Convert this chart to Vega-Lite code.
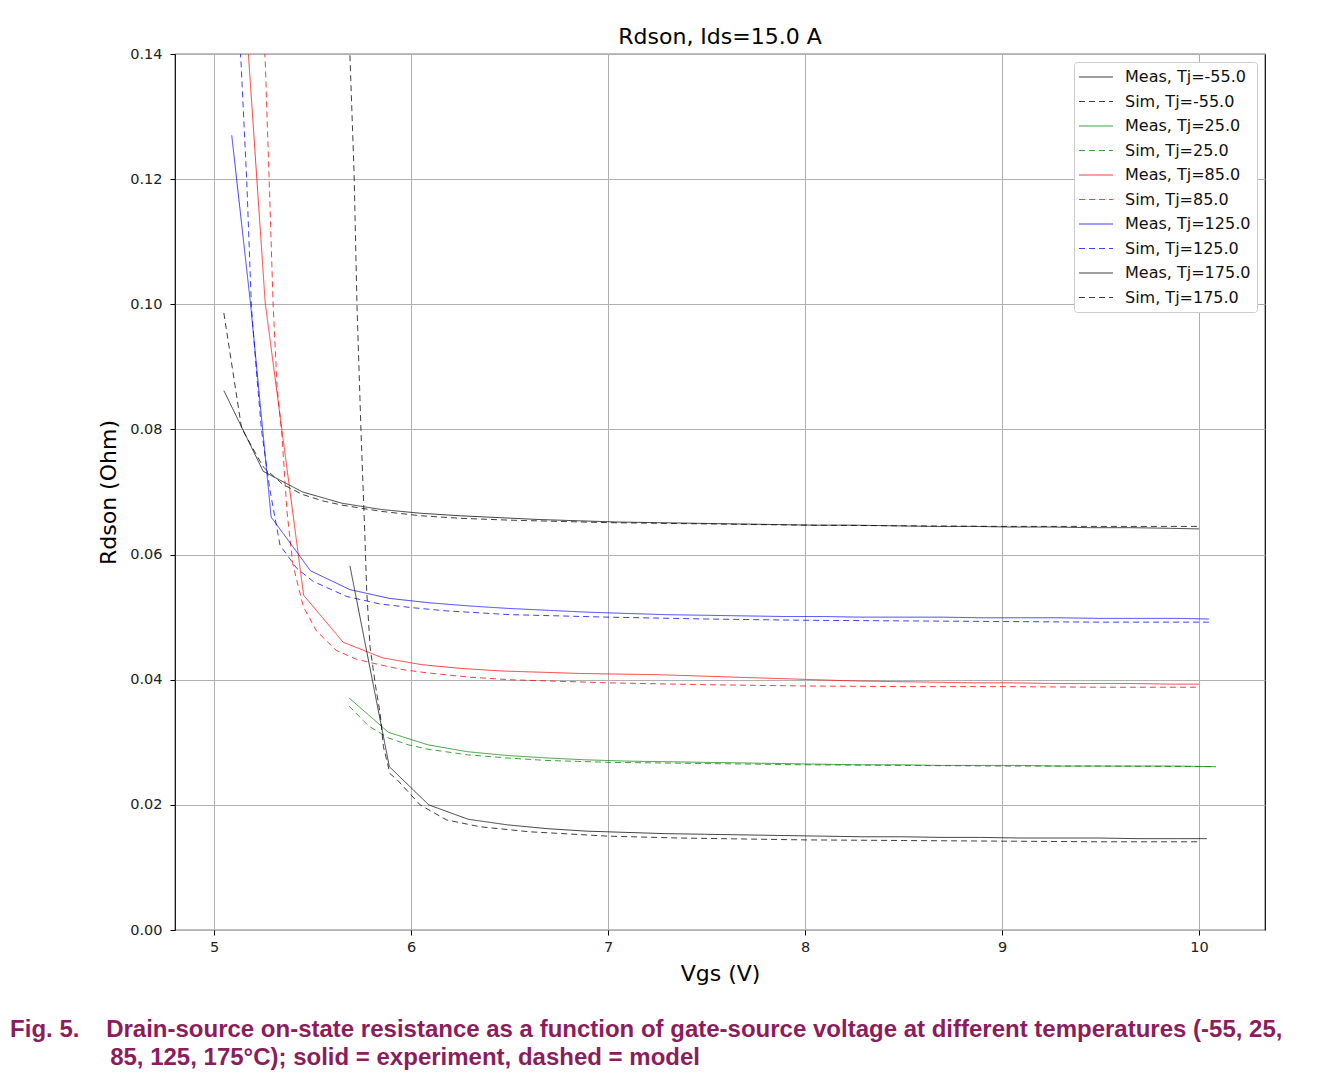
{
"$schema": "https://vega.github.io/schema/vega-lite/v6.json",
"background": "white",
"padding": {"left": 10, "top": 25, "right": 5, "bottom": 8},
"config": {
  "font": "DejaVu Sans",
  "view": {"stroke": "#000000", "strokeWidth": 1.2},
  "axis": {"domain": false, "grid": true, "gridColor": "#b0b0b0", "gridWidth": 1, "tickColor": "#000000", "tickSize": 5, "tickWidth": 1, "labelFont": "DejaVu Sans", "labelFontSize": 14.5, "labelColor": "#222222", "titleFont": "DejaVu Sans", "titleFontSize": 22, "titleFontWeight": "normal", "titleColor": "#000000"}
},
"title": {"text": ["Fig. 5.\u00a0\u00a0\u00a0\u00a0Drain-source on-state resistance as a function of gate-source voltage at different temperatures (-55, 25,", "\u200b\u00a0\u00a0\u00a0\u00a0\u00a0\u00a0\u00a0\u00a0\u00a0\u00a0\u00a0\u00a0\u00a0\u00a0\u00a085, 125, 175°C); solid = experiment, dashed = model"], "orient": "bottom", "anchor": "start", "frame": "bounds", "font": "Liberation Sans", "fontSize": 24, "fontWeight": "bold", "color": "#8c1d5c", "lineHeight": 28, "dx": -87, "offset": 33},
"vconcat": [{
  "width": 1090,
  "height": 876,
  "title": {"text": "Rdson, Ids=15.0 A", "font": "DejaVu Sans", "fontSize": 22, "fontWeight": "normal", "color": "#000000", "anchor": "middle", "frame": "group", "baseline": "alphabetic", "offset": -20},
  "data": {"values": [
{"s":"Meas, Tj=-55.0","x":5.05,"y":0.0862},{"s":"Meas, Tj=-55.0","x":5.25,"y":0.0733},{"s":"Meas, Tj=-55.0","x":5.45,"y":0.0700},{"s":"Meas, Tj=-55.0","x":5.65,"y":0.0682},{"s":"Meas, Tj=-55.0","x":5.85,"y":0.0672},{"s":"Meas, Tj=-55.0","x":6.05,"y":0.0666},{"s":"Meas, Tj=-55.0","x":6.25,"y":0.0662},{"s":"Meas, Tj=-55.0","x":6.45,"y":0.0659},{"s":"Meas, Tj=-55.0","x":6.65,"y":0.0656},{"s":"Meas, Tj=-55.0","x":6.85,"y":0.0654},{"s":"Meas, Tj=-55.0","x":7.05,"y":0.0652},{"s":"Meas, Tj=-55.0","x":7.25,"y":0.0651},{"s":"Meas, Tj=-55.0","x":7.45,"y":0.0650},{"s":"Meas, Tj=-55.0","x":7.65,"y":0.0649},{"s":"Meas, Tj=-55.0","x":7.85,"y":0.0648},{"s":"Meas, Tj=-55.0","x":8.05,"y":0.0647},{"s":"Meas, Tj=-55.0","x":8.25,"y":0.0647},{"s":"Meas, Tj=-55.0","x":8.45,"y":0.0646},{"s":"Meas, Tj=-55.0","x":8.65,"y":0.0645},{"s":"Meas, Tj=-55.0","x":8.85,"y":0.0645},{"s":"Meas, Tj=-55.0","x":9.05,"y":0.0644},{"s":"Meas, Tj=-55.0","x":9.25,"y":0.0644},{"s":"Meas, Tj=-55.0","x":9.45,"y":0.0643},{"s":"Meas, Tj=-55.0","x":9.65,"y":0.0643},{"s":"Meas, Tj=-55.0","x":9.85,"y":0.0642},{"s":"Meas, Tj=-55.0","x":10.0,"y":0.0641},
{"s":"Sim, Tj=-55.0","x":5.05,"y":0.0986},{"s":"Sim, Tj=-55.0","x":5.14,"y":0.0802},{"s":"Sim, Tj=-55.0","x":5.25,"y":0.0740},{"s":"Sim, Tj=-55.0","x":5.35,"y":0.0712},{"s":"Sim, Tj=-55.0","x":5.45,"y":0.0696},{"s":"Sim, Tj=-55.0","x":5.55,"y":0.0686},{"s":"Sim, Tj=-55.0","x":5.65,"y":0.0679},{"s":"Sim, Tj=-55.0","x":5.85,"y":0.0669},{"s":"Sim, Tj=-55.0","x":6.05,"y":0.0662},{"s":"Sim, Tj=-55.0","x":6.25,"y":0.0658},{"s":"Sim, Tj=-55.0","x":6.5,"y":0.0655},{"s":"Sim, Tj=-55.0","x":7.0,"y":0.0651},{"s":"Sim, Tj=-55.0","x":7.5,"y":0.0649},{"s":"Sim, Tj=-55.0","x":8.0,"y":0.0647},{"s":"Sim, Tj=-55.0","x":8.5,"y":0.0646},{"s":"Sim, Tj=-55.0","x":9.0,"y":0.0645},{"s":"Sim, Tj=-55.0","x":9.5,"y":0.0645},{"s":"Sim, Tj=-55.0","x":10.0,"y":0.0645},
{"s":"Meas, Tj=25.0","x":5.685,"y":0.0371},{"s":"Meas, Tj=25.0","x":5.885,"y":0.0316},{"s":"Meas, Tj=25.0","x":6.085,"y":0.0296},{"s":"Meas, Tj=25.0","x":6.285,"y":0.0285},{"s":"Meas, Tj=25.0","x":6.485,"y":0.0279},{"s":"Meas, Tj=25.0","x":6.685,"y":0.0275},{"s":"Meas, Tj=25.0","x":6.885,"y":0.0272},{"s":"Meas, Tj=25.0","x":7.085,"y":0.0270},{"s":"Meas, Tj=25.0","x":7.285,"y":0.0269},{"s":"Meas, Tj=25.0","x":7.485,"y":0.0268},{"s":"Meas, Tj=25.0","x":7.685,"y":0.0267},{"s":"Meas, Tj=25.0","x":7.885,"y":0.0266},{"s":"Meas, Tj=25.0","x":8.085,"y":0.0265},{"s":"Meas, Tj=25.0","x":8.285,"y":0.0264},{"s":"Meas, Tj=25.0","x":8.485,"y":0.0264},{"s":"Meas, Tj=25.0","x":8.685,"y":0.0263},{"s":"Meas, Tj=25.0","x":8.885,"y":0.0263},{"s":"Meas, Tj=25.0","x":9.085,"y":0.0263},{"s":"Meas, Tj=25.0","x":9.285,"y":0.0262},{"s":"Meas, Tj=25.0","x":9.485,"y":0.0262},{"s":"Meas, Tj=25.0","x":9.685,"y":0.0262},{"s":"Meas, Tj=25.0","x":9.885,"y":0.0262},{"s":"Meas, Tj=25.0","x":10.085,"y":0.0261},
{"s":"Sim, Tj=25.0","x":5.685,"y":0.0358},{"s":"Sim, Tj=25.0","x":5.785,"y":0.0326},{"s":"Sim, Tj=25.0","x":5.885,"y":0.0307},{"s":"Sim, Tj=25.0","x":5.985,"y":0.0296},{"s":"Sim, Tj=25.0","x":6.085,"y":0.0289},{"s":"Sim, Tj=25.0","x":6.285,"y":0.0280},{"s":"Sim, Tj=25.0","x":6.485,"y":0.0275},{"s":"Sim, Tj=25.0","x":6.685,"y":0.0271},{"s":"Sim, Tj=25.0","x":7.0,"y":0.0268},{"s":"Sim, Tj=25.0","x":7.5,"y":0.0266},{"s":"Sim, Tj=25.0","x":8.0,"y":0.0264},{"s":"Sim, Tj=25.0","x":8.5,"y":0.0263},{"s":"Sim, Tj=25.0","x":9.0,"y":0.0262},{"s":"Sim, Tj=25.0","x":9.5,"y":0.0262},{"s":"Sim, Tj=25.0","x":10.085,"y":0.0261},
{"s":"Meas, Tj=85.0","x":5.05,"y":0.198},{"s":"Meas, Tj=85.0","x":5.26,"y":0.1002},{"s":"Meas, Tj=85.0","x":5.455,"y":0.0535},{"s":"Meas, Tj=85.0","x":5.655,"y":0.0460},{"s":"Meas, Tj=85.0","x":5.855,"y":0.0435},{"s":"Meas, Tj=85.0","x":6.055,"y":0.0424},{"s":"Meas, Tj=85.0","x":6.255,"y":0.0418},{"s":"Meas, Tj=85.0","x":6.455,"y":0.0414},{"s":"Meas, Tj=85.0","x":6.655,"y":0.0412},{"s":"Meas, Tj=85.0","x":6.855,"y":0.0410},{"s":"Meas, Tj=85.0","x":7.055,"y":0.0409},{"s":"Meas, Tj=85.0","x":7.255,"y":0.0408},{"s":"Meas, Tj=85.0","x":7.455,"y":0.0406},{"s":"Meas, Tj=85.0","x":7.655,"y":0.0404},{"s":"Meas, Tj=85.0","x":7.855,"y":0.0402},{"s":"Meas, Tj=85.0","x":8.055,"y":0.0400},{"s":"Meas, Tj=85.0","x":8.255,"y":0.0398},{"s":"Meas, Tj=85.0","x":8.455,"y":0.0397},{"s":"Meas, Tj=85.0","x":8.655,"y":0.0396},{"s":"Meas, Tj=85.0","x":8.855,"y":0.0395},{"s":"Meas, Tj=85.0","x":9.055,"y":0.0395},{"s":"Meas, Tj=85.0","x":9.255,"y":0.0394},{"s":"Meas, Tj=85.0","x":9.455,"y":0.0394},{"s":"Meas, Tj=85.0","x":9.655,"y":0.0394},{"s":"Meas, Tj=85.0","x":9.855,"y":0.0393},{"s":"Meas, Tj=85.0","x":10.0,"y":0.0393},
{"s":"Sim, Tj=85.0","x":5.255,"y":0.142},{"s":"Sim, Tj=85.0","x":5.26,"y":0.1388},{"s":"Sim, Tj=85.0","x":5.28,"y":0.1199},{"s":"Sim, Tj=85.0","x":5.30,"y":0.1000},{"s":"Sim, Tj=85.0","x":5.32,"y":0.0870},{"s":"Sim, Tj=85.0","x":5.345,"y":0.0790},{"s":"Sim, Tj=85.0","x":5.37,"y":0.0670},{"s":"Sim, Tj=85.0","x":5.40,"y":0.0585},{"s":"Sim, Tj=85.0","x":5.453,"y":0.0517},{"s":"Sim, Tj=85.0","x":5.52,"y":0.0478},{"s":"Sim, Tj=85.0","x":5.62,"y":0.0447},{"s":"Sim, Tj=85.0","x":5.72,"y":0.0433},{"s":"Sim, Tj=85.0","x":5.84,"y":0.0424},{"s":"Sim, Tj=85.0","x":5.96,"y":0.0416},{"s":"Sim, Tj=85.0","x":6.08,"y":0.0411},{"s":"Sim, Tj=85.0","x":6.3,"y":0.0404},{"s":"Sim, Tj=85.0","x":6.5,"y":0.0400},{"s":"Sim, Tj=85.0","x":7.0,"y":0.0395},{"s":"Sim, Tj=85.0","x":7.5,"y":0.0392},{"s":"Sim, Tj=85.0","x":8.0,"y":0.0390},{"s":"Sim, Tj=85.0","x":8.5,"y":0.0389},{"s":"Sim, Tj=85.0","x":9.0,"y":0.0389},{"s":"Sim, Tj=85.0","x":9.5,"y":0.0388},{"s":"Sim, Tj=85.0","x":10.0,"y":0.0388},
{"s":"Meas, Tj=125.0","x":5.09,"y":0.1270},{"s":"Meas, Tj=125.0","x":5.185,"y":0.1002},{"s":"Meas, Tj=125.0","x":5.29,"y":0.0660},{"s":"Meas, Tj=125.0","x":5.49,"y":0.0574},{"s":"Meas, Tj=125.0","x":5.69,"y":0.0544},{"s":"Meas, Tj=125.0","x":5.89,"y":0.0530},{"s":"Meas, Tj=125.0","x":6.09,"y":0.0523},{"s":"Meas, Tj=125.0","x":6.29,"y":0.0518},{"s":"Meas, Tj=125.0","x":6.49,"y":0.0514},{"s":"Meas, Tj=125.0","x":6.69,"y":0.0511},{"s":"Meas, Tj=125.0","x":6.89,"y":0.0508},{"s":"Meas, Tj=125.0","x":7.09,"y":0.0506},{"s":"Meas, Tj=125.0","x":7.29,"y":0.0504},{"s":"Meas, Tj=125.0","x":7.49,"y":0.0503},{"s":"Meas, Tj=125.0","x":7.69,"y":0.0502},{"s":"Meas, Tj=125.0","x":7.89,"y":0.0501},{"s":"Meas, Tj=125.0","x":8.09,"y":0.0501},{"s":"Meas, Tj=125.0","x":8.29,"y":0.0500},{"s":"Meas, Tj=125.0","x":8.49,"y":0.0500},{"s":"Meas, Tj=125.0","x":8.69,"y":0.0500},{"s":"Meas, Tj=125.0","x":8.89,"y":0.0499},{"s":"Meas, Tj=125.0","x":9.09,"y":0.0499},{"s":"Meas, Tj=125.0","x":9.29,"y":0.0499},{"s":"Meas, Tj=125.0","x":9.49,"y":0.0498},{"s":"Meas, Tj=125.0","x":9.69,"y":0.0498},{"s":"Meas, Tj=125.0","x":9.89,"y":0.0498},{"s":"Meas, Tj=125.0","x":10.05,"y":0.0497},
{"s":"Sim, Tj=125.0","x":5.13,"y":0.1420},{"s":"Sim, Tj=125.0","x":5.137,"y":0.1387},{"s":"Sim, Tj=125.0","x":5.166,"y":0.1199},{"s":"Sim, Tj=125.0","x":5.19,"y":0.0996},{"s":"Sim, Tj=125.0","x":5.216,"y":0.0890},{"s":"Sim, Tj=125.0","x":5.241,"y":0.0799},{"s":"Sim, Tj=125.0","x":5.284,"y":0.0703},{"s":"Sim, Tj=125.0","x":5.335,"y":0.0615},{"s":"Sim, Tj=125.0","x":5.42,"y":0.0578},{"s":"Sim, Tj=125.0","x":5.504,"y":0.0557},{"s":"Sim, Tj=125.0","x":5.674,"y":0.0533},{"s":"Sim, Tj=125.0","x":5.843,"y":0.0521},{"s":"Sim, Tj=125.0","x":6.01,"y":0.0515},{"s":"Sim, Tj=125.0","x":6.18,"y":0.0510},{"s":"Sim, Tj=125.0","x":6.5,"y":0.0504},{"s":"Sim, Tj=125.0","x":7.0,"y":0.0500},{"s":"Sim, Tj=125.0","x":7.5,"y":0.0497},{"s":"Sim, Tj=125.0","x":8.0,"y":0.0495},{"s":"Sim, Tj=125.0","x":8.5,"y":0.0494},{"s":"Sim, Tj=125.0","x":9.0,"y":0.0493},{"s":"Sim, Tj=125.0","x":9.5,"y":0.0492},{"s":"Sim, Tj=125.0","x":10.05,"y":0.0492},
{"s":"Meas, Tj=175.0","x":5.69,"y":0.0582},{"s":"Meas, Tj=175.0","x":5.89,"y":0.0261},{"s":"Meas, Tj=175.0","x":6.09,"y":0.0200},{"s":"Meas, Tj=175.0","x":6.29,"y":0.0177},{"s":"Meas, Tj=175.0","x":6.49,"y":0.0168},{"s":"Meas, Tj=175.0","x":6.69,"y":0.0162},{"s":"Meas, Tj=175.0","x":6.89,"y":0.0158},{"s":"Meas, Tj=175.0","x":7.09,"y":0.0156},{"s":"Meas, Tj=175.0","x":7.29,"y":0.0154},{"s":"Meas, Tj=175.0","x":7.49,"y":0.0153},{"s":"Meas, Tj=175.0","x":7.69,"y":0.0152},{"s":"Meas, Tj=175.0","x":7.89,"y":0.0151},{"s":"Meas, Tj=175.0","x":8.09,"y":0.0150},{"s":"Meas, Tj=175.0","x":8.29,"y":0.0149},{"s":"Meas, Tj=175.0","x":8.49,"y":0.0149},{"s":"Meas, Tj=175.0","x":8.69,"y":0.0148},{"s":"Meas, Tj=175.0","x":8.89,"y":0.0148},{"s":"Meas, Tj=175.0","x":9.09,"y":0.0147},{"s":"Meas, Tj=175.0","x":9.29,"y":0.0147},{"s":"Meas, Tj=175.0","x":9.49,"y":0.0147},{"s":"Meas, Tj=175.0","x":9.69,"y":0.0146},{"s":"Meas, Tj=175.0","x":9.89,"y":0.0146},{"s":"Meas, Tj=175.0","x":10.04,"y":0.0146},
{"s":"Sim, Tj=175.0","x":5.69,"y":0.1398},{"s":"Sim, Tj=175.0","x":5.711,"y":0.1210},{"s":"Sim, Tj=175.0","x":5.726,"y":0.0996},{"s":"Sim, Tj=175.0","x":5.746,"y":0.0799},{"s":"Sim, Tj=175.0","x":5.766,"y":0.0628},{"s":"Sim, Tj=175.0","x":5.775,"y":0.0543},{"s":"Sim, Tj=175.0","x":5.792,"y":0.0453},{"s":"Sim, Tj=175.0","x":5.82,"y":0.0390},{"s":"Sim, Tj=175.0","x":5.843,"y":0.0347},{"s":"Sim, Tj=175.0","x":5.86,"y":0.0293},{"s":"Sim, Tj=175.0","x":5.893,"y":0.0250},{"s":"Sim, Tj=175.0","x":5.93,"y":0.0240},{"s":"Sim, Tj=175.0","x":6.046,"y":0.0200},{"s":"Sim, Tj=175.0","x":6.18,"y":0.0176},{"s":"Sim, Tj=175.0","x":6.35,"y":0.0165},{"s":"Sim, Tj=175.0","x":6.6,"y":0.0157},{"s":"Sim, Tj=175.0","x":7.0,"y":0.0150},{"s":"Sim, Tj=175.0","x":7.36,"y":0.0147},{"s":"Sim, Tj=175.0","x":8.0,"y":0.0144},{"s":"Sim, Tj=175.0","x":8.5,"y":0.0143},{"s":"Sim, Tj=175.0","x":9.0,"y":0.0142},{"s":"Sim, Tj=175.0","x":9.5,"y":0.0141},{"s":"Sim, Tj=175.0","x":10.0,"y":0.0141}
  ]},
  "mark": {"type": "line", "clip": true, "strokeWidth": 1, "opacity": 0.75},
  "encoding": {
    "x": {"field": "x", "type": "quantitative", "scale": {"domain": [4.802, 10.335], "nice": false, "zero": false}, "axis": {"title": "Vgs (V)", "values": [5, 6, 7, 8, 9, 10], "format": "d", "labelPadding": 5, "titlePadding": 10}},
    "y": {"field": "y", "type": "quantitative", "scale": {"domain": [0, 0.14], "nice": false, "zero": false}, "axis": {"title": "Rdson (Ohm)", "values": [0, 0.02, 0.04, 0.06, 0.08, 0.1, 0.12, 0.14], "format": ".2f", "labelPadding": 8, "titlePadding": 9}},
    "color": {"field": "s", "type": "nominal",
      "scale": {"domain": ["Meas, Tj=-55.0", "Sim, Tj=-55.0", "Meas, Tj=25.0", "Sim, Tj=25.0", "Meas, Tj=85.0", "Sim, Tj=85.0", "Meas, Tj=125.0", "Sim, Tj=125.0", "Meas, Tj=175.0", "Sim, Tj=175.0"],
                "range": ["#000000", "#000000", "#008000", "#008000", "#ff0000", "#ff0000", "#0000ff", "#0000ff", "#000000", "#000000"]},
      "legend": {"title": null, "orient": "top-right", "offset": 8, "padding": 6, "rowPadding": 7.5, "symbolType": "M-2,0H2", "symbolSize": 289, "symbolOffset": 7, "labelOffset": 20, "symbolStrokeWidth": 1, "symbolOpacity": 0.75, "labelFont": "DejaVu Sans", "labelFontSize": 16, "labelColor": "#111111", "fillColor": "white", "strokeColor": "#cccccc", "cornerRadius": 3}},
    "strokeDash": {"field": "s", "type": "nominal",
      "scale": {"domain": ["Meas, Tj=-55.0", "Sim, Tj=-55.0", "Meas, Tj=25.0", "Sim, Tj=25.0", "Meas, Tj=85.0", "Sim, Tj=85.0", "Meas, Tj=125.0", "Sim, Tj=125.0", "Meas, Tj=175.0", "Sim, Tj=175.0"],
                "range": [[1, 0], [6, 4], [1, 0], [6, 4], [1, 0], [6, 4], [1, 0], [6, 4], [1, 0], [6, 4]]},
      "legend": {"title": null, "orient": "top-right", "offset": 8, "padding": 6, "rowPadding": 7.5, "symbolType": "M-2,0H2", "symbolSize": 289, "symbolOffset": 7, "labelOffset": 20, "symbolStrokeWidth": 1, "symbolOpacity": 0.75, "labelFont": "DejaVu Sans", "labelFontSize": 16, "labelColor": "#111111", "fillColor": "white", "strokeColor": "#cccccc", "cornerRadius": 3}}
  }
}]
}
